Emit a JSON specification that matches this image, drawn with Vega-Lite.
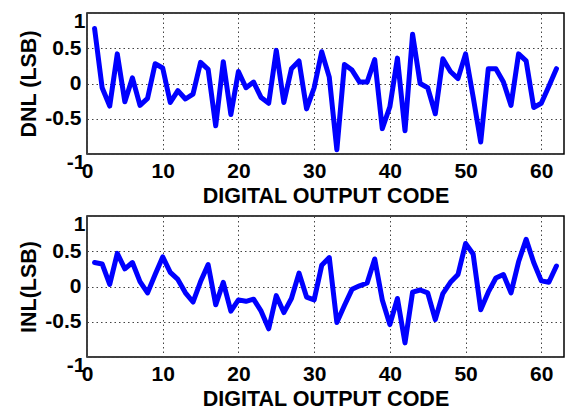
{
  "$schema": "https://vega.github.io/schema/vega-lite/v6.json",
  "padding": {"left": 18, "top": 9, "right": 7, "bottom": 5},
  "background": "white",
  "spacing": 4,
  "data": {"values": [
    {"code":1,"dnl":0.78,"inl":0.34},{"code":2,"dnl":-0.06,"inl":0.32},{"code":3,"dnl":-0.32,"inl":0.03},{"code":4,"dnl":0.42,"inl":0.47},{"code":5,"dnl":-0.26,"inl":0.25},
    {"code":6,"dnl":0.08,"inl":0.34},{"code":7,"dnl":-0.31,"inl":0.07},{"code":8,"dnl":-0.21,"inl":-0.09},{"code":9,"dnl":0.28,"inl":0.17},{"code":10,"dnl":0.22,"inl":0.42},
    {"code":11,"dnl":-0.27,"inl":0.20},{"code":12,"dnl":-0.10,"inl":0.10},{"code":13,"dnl":-0.22,"inl":-0.09},{"code":14,"dnl":-0.15,"inl":-0.22},{"code":15,"dnl":0.30,"inl":0.07},
    {"code":16,"dnl":0.20,"inl":0.31},{"code":17,"dnl":-0.60,"inl":-0.26},{"code":18,"dnl":0.31,"inl":0.06},{"code":19,"dnl":-0.44,"inl":-0.35},{"code":20,"dnl":0.17,"inl":-0.19},
    {"code":21,"dnl":-0.06,"inl":-0.21},{"code":22,"dnl":0.02,"inl":-0.18},{"code":23,"dnl":-0.20,"inl":-0.35},{"code":24,"dnl":-0.28,"inl":-0.60},{"code":25,"dnl":0.47,"inl":-0.13},
    {"code":26,"dnl":-0.27,"inl":-0.37},{"code":27,"dnl":0.21,"inl":-0.17},{"code":28,"dnl":0.32,"inl":0.19},{"code":29,"dnl":-0.36,"inl":-0.15},{"code":30,"dnl":-0.06,"inl":-0.19},
    {"code":31,"dnl":0.45,"inl":0.30},{"code":32,"dnl":0.09,"inl":0.41},{"code":33,"dnl":-0.94,"inl":-0.51},{"code":34,"dnl":0.27,"inl":-0.27},{"code":35,"dnl":0.19,"inl":-0.04},
    {"code":36,"dnl":0.02,"inl":0.01},{"code":37,"dnl":0.02,"inl":0.05},{"code":38,"dnl":0.34,"inl":0.39},{"code":39,"dnl":-0.64,"inl":-0.19},{"code":40,"dnl":-0.33,"inl":-0.54},
    {"code":41,"dnl":0.36,"inl":-0.17},{"code":42,"dnl":-0.67,"inl":-0.80},{"code":43,"dnl":0.70,"inl":-0.08},{"code":44,"dnl":0.0,"inl":-0.05},{"code":45,"dnl":-0.06,"inl":-0.09},
    {"code":46,"dnl":-0.43,"inl":-0.47},{"code":47,"dnl":0.35,"inl":-0.10},{"code":48,"dnl":0.17,"inl":0.06},{"code":49,"dnl":0.07,"inl":0.17},{"code":50,"dnl":0.42,"inl":0.61},
    {"code":51,"dnl":-0.19,"inl":0.46},{"code":52,"dnl":-0.83,"inl":-0.33},{"code":53,"dnl":0.21,"inl":-0.08},{"code":54,"dnl":0.21,"inl":0.12},{"code":55,"dnl":0.02,"inl":0.17},
    {"code":56,"dnl":-0.31,"inl":-0.09},{"code":57,"dnl":0.42,"inl":0.35},{"code":58,"dnl":0.32,"inl":0.67},{"code":59,"dnl":-0.34,"inl":0.34},{"code":60,"dnl":-0.28,"inl":0.08},
    {"code":61,"dnl":-0.04,"inl":0.06},{"code":62,"dnl":0.21,"inl":0.29}
  ]},
  "vconcat": [
    {
      "width": 477,
      "height": 141,
      "mark": {"type": "line", "color": "#0000FF", "strokeWidth": 5, "strokeJoin": "round", "strokeCap": "round"},
      "encoding": {
        "x": {"field": "code", "type": "quantitative", "scale": {"domain": [0, 63], "nice": false, "zero": false},
              "axis": {"title": "DIGITAL OUTPUT CODE", "values": [0,10,20,30,40,50,60]}},
        "y": {"field": "dnl", "type": "quantitative", "scale": {"domain": [-1, 1], "nice": false},
              "axis": {"title": "DNL (LSB)", "values": [-1,-0.5,0,0.5,1]}}
      }
    },
    {
      "width": 477,
      "height": 141,
      "mark": {"type": "line", "color": "#0000FF", "strokeWidth": 5, "strokeJoin": "round", "strokeCap": "round"},
      "encoding": {
        "x": {"field": "code", "type": "quantitative", "scale": {"domain": [0, 63], "nice": false, "zero": false},
              "axis": {"title": "DIGITAL OUTPUT CODE", "values": [0,10,20,30,40,50,60]}},
        "y": {"field": "inl", "type": "quantitative", "scale": {"domain": [-1, 1], "nice": false},
              "axis": {"title": "INL(LSB)", "values": [-1,-0.5,0,0.5,1]}}
      }
    }
  ],
  "config": {
    "view": {"stroke": "black", "strokeWidth": 1.5},
    "axis": {
      "labelFont": "Liberation Sans", "labelFontWeight": "bold", "labelFontSize": 21, "labelColor": "black",
      "titleFont": "Liberation Sans", "titleFontWeight": "bold", "titleFontSize": 21.5, "titleColor": "black",
      "grid": true, "gridDash": [1.5, 3], "gridColor": "#444444", "gridWidth": 1, "gridOpacity": 1,
      "ticks": false, "domain": false, "labelOverlap": false, "labelFlush": false,
      "labelExpr": "'' + datum.value"
    },
    "axisX": {"labelPadding": 6, "titlePadding": 4},
    "axisY": {"titlePadding": 4,
      "labelPadding": {"condition": {"test": "datum.value == 1 || datum.value == -1", "value": 2}, "value": 6},
      "labelOffset": {"condition": {"test": "datum.value == 1 || datum.value == -1", "value": 8}, "value": 0}}
  }
}
